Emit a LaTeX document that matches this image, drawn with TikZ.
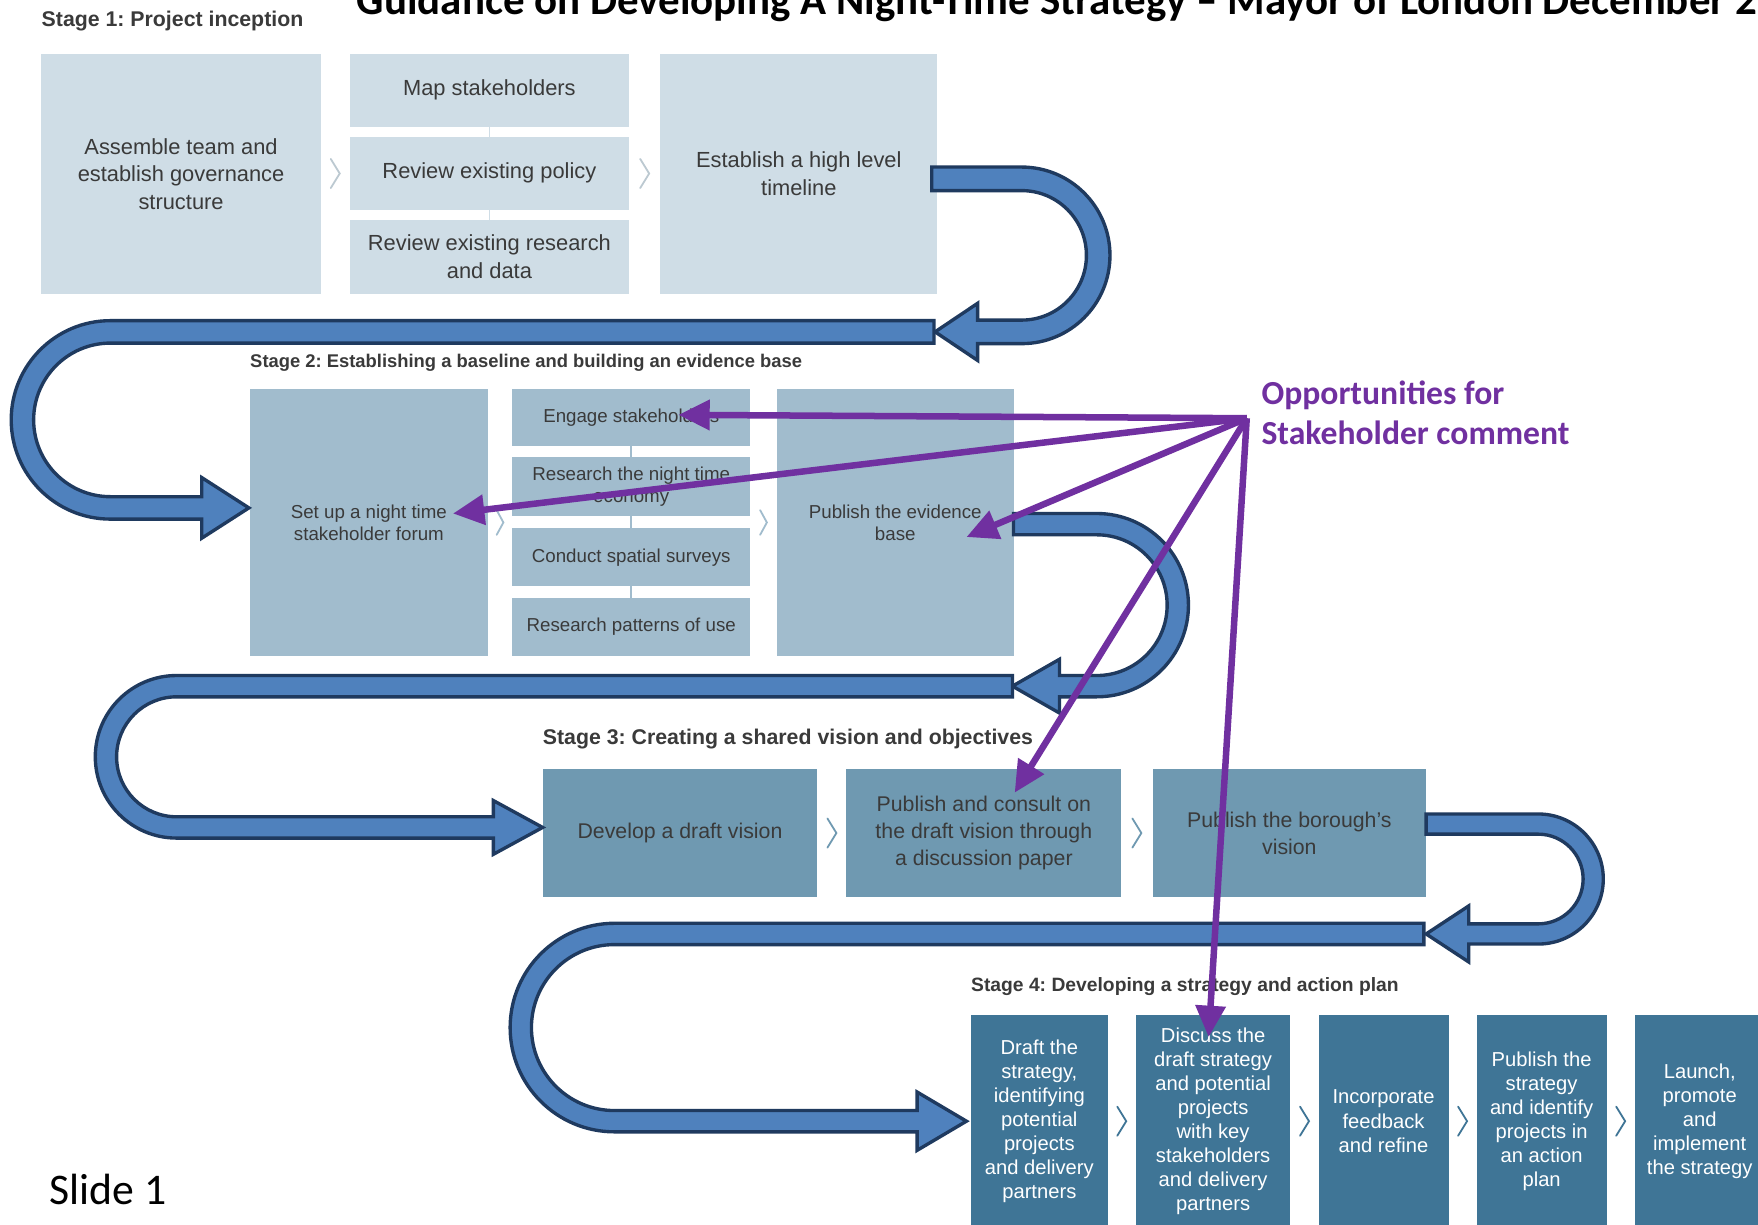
\documentclass[tikz,border=0pt]{standalone}
\usepackage{fontspec}
\setmainfont{Liberation Sans}
\newfontfamily\calib{Carlito}
\usetikzlibrary{arrows.meta,calc}
\frenchspacing
\definecolor{cA}{HTML}{CFDDE6}
\definecolor{cB}{HTML}{A1BCCD}
\definecolor{cC}{HTML}{6F99B1}
\definecolor{cD}{HTML}{3F7596}
\definecolor{txt}{HTML}{3A3A3A}
\definecolor{ublue}{HTML}{4F81BD}
\definecolor{uline}{HTML}{1F3A5F}
\definecolor{purp}{HTML}{7030A0}
% #1 tail x, #2 top band y, #3 bottom band y, #4 band width, #5 outer x, #6 tip x, #7 head base x, #8 head half height
\newcommand\UTurnRight[8]{%
 \pgfmathsetmacro\uh{#4/2}%
 \pgfmathsetmacro\uR{(#3-#2)/2+\uh}%
 \pgfmathsetmacro\ur{\uR-#4}%
 \pgfmathsetmacro\ucx{#5-\uR}%
 \draw[uturn] (#1,#2-\uh) -- (\ucx,#2-\uh) arc[start angle=-90,end angle=90,radius=\uR]
  -- (#7,#3+\uh) -- (#7,#3+#8) -- (#6,#3) -- (#7,#3-#8) -- (#7,#3-\uh) -- (\ucx,#3-\uh)
  arc[start angle=90,end angle=-90,radius=\ur] -- (#1,#2+\uh) -- cycle;}
\newcommand\UTurnLeft[8]{%
 \pgfmathsetmacro\uh{#4/2}%
 \pgfmathsetmacro\uR{(#3-#2)/2+\uh}%
 \pgfmathsetmacro\ur{\uR-#4}%
 \pgfmathsetmacro\ucx{#5+\uR}%
 \draw[uturn] (#1,#2-\uh) -- (\ucx,#2-\uh) arc[start angle=-90,end angle=-270,radius=\uR]
  -- (#7,#3+\uh) -- (#7,#3+#8) -- (#6,#3) -- (#7,#3-#8) -- (#7,#3-\uh) -- (\ucx,#3-\uh)
  arc[start angle=90,end angle=270,radius=\ur] -- (#1,#2+\uh) -- cycle;}
\begin{document}
\begin{tikzpicture}[x=1pt,y=-1pt,
 box/.style={inner sep=0pt,outer sep=0pt,align=center},
 sA/.style={box,fill=cA,text=txt,font=\fontsize{19.5}{24.5}\selectfont},
 sB/.style={box,fill=cB,text=txt,font=\fontsize{16.7}{19.5}\selectfont},
 sC/.style={box,fill=cC,text=txt,font=\fontsize{19}{24}\selectfont},
 sD/.style={box,fill=cD,text=white,font=\fontsize{18}{21.5}\selectfont},
 stagelbl/.style={anchor=base west,inner sep=0pt,text=txt,font=\bfseries\fontsize{#1}{#1}\selectfont},
 chv/.style={line width=1.6pt,line cap=round},
 conn/.style={line width=1.6pt},
 uturn/.style={fill=ublue,draw=uline,line width=3pt,line join=miter},
 parr/.style={draw=purp,line width=5.8pt,-{Triangle[length=28pt,width=26pt]}}]
\path[use as bounding box,clip] (0,0) rectangle (1568,1092);
\fill[white] (0,0) rectangle (1568,1092);

% title and labels
\node[anchor=base west,inner sep=0pt,font=\calib\bfseries\fontsize{38.3}{38.3}\selectfont] (ttl) at (318,13) {Guidance on Developing A Night-Time Strategy – Mayor of London December 2};
\node[stagelbl=19] (st1) at (37,24) {Stage 1: Project inception};

% Stage 1
\node[sA,minimum width=249,minimum height=214] (a1) at (161.5,155) {Assemble team and\\establish governance\\structure};
\node[sA,minimum width=249,minimum height=65] (b1) at (436.5,80.5) {Map stakeholders};
\node[sA,minimum width=249,minimum height=65] (b2) at (436.5,154.5) {Review existing policy};
\node[sA,minimum width=249,minimum height=66] (b3) at (436.5,229) {Review existing research\\and data};
\node[sA,minimum width=247,minimum height=214] (c1) at (712.5,155) {Establish a high level\\timeline};
\draw[conn,cA] (b1.south) -- (b2.north);
\draw[conn,cA] (b2.south) -- (b3.north);
\coordinate (k1) at ($(a1.east)!.5!(b2.west)$);
\coordinate (k2) at ($(b2.east)!.5!(c1.west)$);
\draw[chv,cA!85!black!60!cA] (k1) ++(-4,-13) -- ++(8,13) -- ++(-8,13);
\draw[chv,cA!85!black!60!cA] (k2) ++(-4,-13) -- ++(8,13) -- ++(-8,13);

% Stage 2
\node[stagelbl=16.4] (st2) at (223,328) {Stage 2: Establishing a baseline and building an evidence base};
\node[sB,minimum width=212,minimum height=238] (d1) at (329,466) {Set up a night time\\stakeholder forum};
\node[sB,minimum width=212,minimum height=51] (e1) at (563,372.5) {Engage stakeholders};
\node[sB,minimum width=212,minimum height=52] (e2) at (563,434) {Research the night time\\economy};
\node[sB,minimum width=212,minimum height=52] (e3) at (563,497) {Conduct spatial surveys};
\node[sB,minimum width=212,minimum height=52] (e4) at (563,559) {Research patterns of use};
\node[sB,minimum width=211,minimum height=238] (f1) at (798.5,466) {Publish the evidence\\base};
\draw[conn,cB] (e1.south) -- (e2.north);
\draw[conn,cB] (e2.south) -- (e3.north);
\draw[conn,cB] (e3.south) -- (e4.north);
\coordinate (k3) at ($(d1.east)!.5!(e1.west|-d1.east)$);
\coordinate (k4) at ($(e1.east|-f1.west)!.5!(f1.west)$);
\draw[chv,cB] (k3) ++(-3,-11) -- ++(6,11) -- ++(-6,11);
\draw[chv,cB] (k4) ++(-3,-11) -- ++(6,11) -- ++(-6,11);

% Stage 3
\node[stagelbl=19] (st3) at (484,664) {Stage 3: Creating a shared vision and objectives};
\node[sC,minimum width=245,minimum height=114] (g1) at (606.5,743) {Develop a draft vision};
\node[sC,minimum width=245,minimum height=114] (g2) at (877.5,743) {Publish and consult on\\the draft vision through\\a discussion paper};
\node[sC,minimum width=244,minimum height=114] (g3) at (1150,743) {Publish the borough’s\\vision};
\coordinate (k5) at ($(g1.east)!.5!(g2.west)$);
\coordinate (k6) at ($(g2.east)!.5!(g3.west)$);
\draw[chv,cC] (k5) ++(-4,-13) -- ++(8,13) -- ++(-8,13);
\draw[chv,cC] (k6) ++(-4,-13) -- ++(8,13) -- ++(-8,13);

% Stage 4
\node[stagelbl=17.2] (st4) at (866,884) {Stage 4: Developing a strategy and action plan};
\node[sD,minimum width=122,minimum height=190] (h1) at (927,1000) {Draft the\\strategy,\\identifying\\potential\\projects\\and delivery\\partners};
\node[sD,minimum width=138,minimum height=190] (h2) at (1082,1000) {Discuss the\\draft strategy\\and potential\\projects\\with key\\stakeholders\\and delivery\\partners};
\node[sD,minimum width=116,minimum height=190] (h3) at (1234,1000) {Incorporate\\feedback\\and refine};
\node[sD,minimum width=116,minimum height=190] (h4) at (1375,1000) {Publish the\\strategy\\and identify\\projects in\\an action\\plan};
\node[sD,minimum width=116,minimum height=190] (h5) at (1516,1000) {Launch,\\promote\\and\\implement\\the strategy};
\coordinate (k7) at ($(h1.east)!.5!(h2.west)$);
\coordinate (k8) at ($(h2.east)!.5!(h3.west)$);
\coordinate (k9) at ($(h3.east)!.5!(h4.west)$);
\coordinate (k10) at ($(h4.east)!.5!(h5.west)$);
\foreach \k in {k7,k8,k9,k10}{\draw[chv,cD] (\k) ++(-4,-13) -- ++(8,13) -- ++(-8,13);}

% blue U-turn arrows
\UTurnRight{831}{159.5}{296}{21}{990}{834}{872}{25.5}
\UTurnLeft{833}{296}{453}{20}{10}{222}{180}{27}
\UTurnRight{904}{467.5}{612}{19}{1060}{903}{945}{24}
\UTurnLeft{903}{612}{738}{19}{85}{484}{440}{24}
\UTurnRight{1272}{735}{833}{18}{1430}{1272}{1310}{25}
\UTurnLeft{1270}{833}{1000}{19}{455}{862}{818}{26}

% slide label
\node[anchor=base west,inner sep=0pt,font=\calib\fontsize{39}{39}\selectfont] (sl) at (44,1074) {Slide 1};

% stakeholder comment arrows
\node[anchor=west,inner sep=0pt,align=left,text=purp,font=\calib\bfseries\fontsize{30}{36}\selectfont] (opp) at (1125,368) {Opportunities for\\Stakeholder comment};
\coordinate (po) at (1112,373);
\coordinate (t1) at (605,370);
\coordinate (t2) at (404,458);
\coordinate (t3) at (862,479);
\coordinate (t4) at (905,707);
\coordinate (t5) at (1078,925);
\foreach \t in {t1,t2,t3,t4,t5}{\draw[parr] (po) -- (\t);}
\end{tikzpicture}
\end{document}
